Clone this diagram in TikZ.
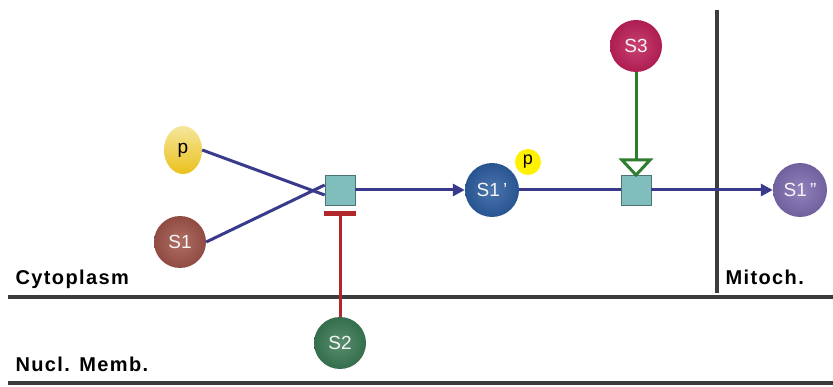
\documentclass[tikz,border=0pt]{standalone}
\usepackage{fontspec}
\setmainfont{Liberation Sans}
\usetikzlibrary{arrows.meta,shapes.geometric}
\definecolor{edgeblue}{HTML}{3A3A8C}
\definecolor{boxteal}{HTML}{80BEBE}
\definecolor{inhred}{HTML}{B0282C}
\definecolor{actgreen}{HTML}{2E7D2E}
\definecolor{membgray}{HTML}{3C3C3C}
\definecolor{cS1}{HTML}{A0544A}
\definecolor{cS1p}{HTML}{2C5DA0}
\definecolor{cS1pp}{HTML}{7D6CB0}
\definecolor{cS3}{HTML}{C0205A}
\definecolor{cS2}{HTML}{3A7A55}
\definecolor{cP}{HTML}{E8C820}
\tikzset{
  mol/.style={circle, minimum size=#1, inner sep=0pt, text=white!92!gray, font=\fontsize{19}{19}\selectfont},
  molshade/.style={inner color=#1!85!white, outer color=#1!90!black},
  procbox/.style={draw=boxteal!60!black, fill=boxteal, minimum size=30pt, inner sep=0pt, line width=0.6pt},
  flow/.style={draw=edgeblue, line width=3pt},
  flowarrow/.style={flow, -{Triangle[length=12pt,width=12pt]}},
  region/.style={font=\bfseries\addfontfeatures{LetterSpace=7}\fontsize{20}{20}\selectfont, anchor=base west},
  memb/.style={draw=membgray, line width=3.5pt}
}
\begin{document}
\begin{tikzpicture}[x=1pt,y=-1pt]
\useasboundingbox (0,0) rectangle (833,387);
% membranes
\draw[memb] (8,297) -- (833,297);
\draw[memb] (8,383) -- (833,383);
\draw[memb] (717,10) -- (717,293);
% region labels
\node[region] (cyto) at (12,285) {Cytoplasm};
\node[region] (mito) at (722,285) {Mitoch.};
\node[region] (nucl) at (12,372) {Nucl. Memb.};
% molecules
\node[ellipse, minimum width=38pt, minimum height=48pt, inner sep=0pt,
  top color=cP!45!white, bottom color=cP!90!orange, font=\fontsize{19}{19}\selectfont] (p) at (183,150) {p};
\node[mol=52pt, molshade=cS1] (S1) at (180,242) {S1};
\node[procbox] (B1) at (340,190) {};
\node[mol=54pt, molshade=cS1p] (S1p) at (492,190) {S1\,'};
\node[circle, fill=yellow, minimum size=26pt, inner sep=0pt, font=\fontsize{18}{18}\selectfont] (pp) at (528,162) {p};
\node[procbox] (B2) at (636,190) {};
\node[mol=54pt, molshade=cS1pp] (S1pp) at (800,190) {S1\,''};
\node[mol=52pt, molshade=cS3] (S3) at (636,46) {S3};
\node[mol=52pt, molshade=cS2] (S2) at (340,343) {S2};
% flows
\draw[flow] (p.east) -- ([yshift=-5pt]B1.west);
\draw[flow] (S1.east) -- ([yshift=5pt]B1.west);
\draw[flowarrow] (B1.east) -- (S1p.west);
\draw[flow] (S1p.east) -- (B2.west);
\draw[flowarrow] (B2.east) -- (S1pp.west);
% inhibition S2
\coordinate (bar) at (340,213.5);
\draw[inhred, line width=3pt] (S2.north) -- (bar);
\draw[inhred, line width=5.5pt] ([xshift=-16pt]bar) -- ([xshift=16pt]bar);
% activation S3
\draw[actgreen, line width=3pt] (S3.south) -- (636,160);
\draw[actgreen, line width=3pt, line join=miter] (622,160) -- (650,160) -- (636,175) -- cycle;
\end{tikzpicture}
\end{document}
